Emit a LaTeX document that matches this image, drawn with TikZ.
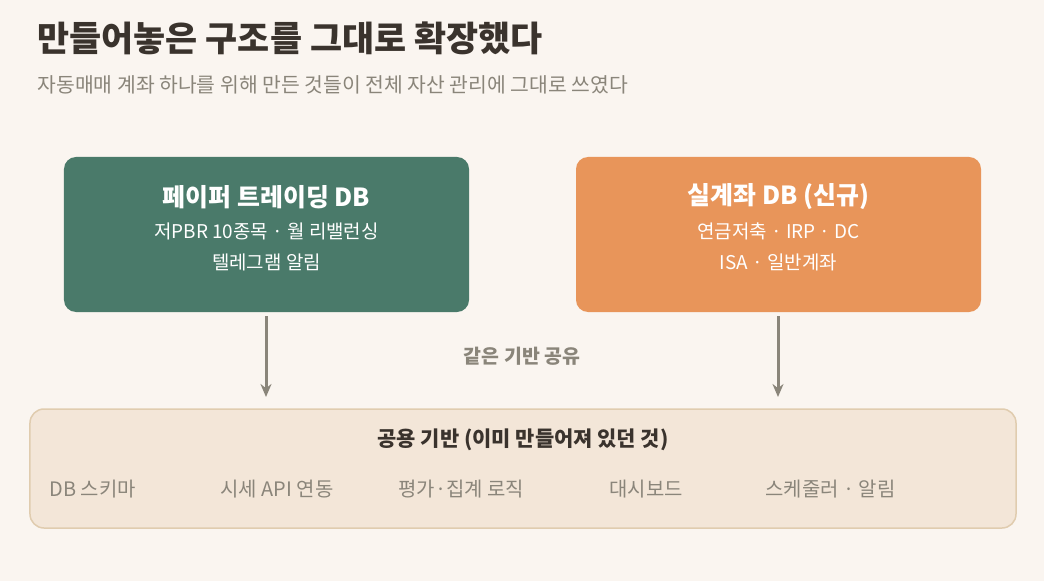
\documentclass[tikz,border=0pt]{standalone}
\usepackage{fontspec}
\setmainfont{Noto Sans CJK KR}
\usetikzlibrary{positioning,arrows.meta}
\definecolor{bg}{HTML}{FAF5F0}
\definecolor{paper}{HTML}{4A7A6A}
\definecolor{real}{HTML}{E8955A}
\definecolor{base}{HTML}{F3E6D8}
\definecolor{baseline}{HTML}{E0CCAF}
\definecolor{ink}{HTML}{3A332D}
\definecolor{muted}{HTML}{8A857A}
\newcommand{\fs}[1]{\fontsize{#1}{#1}\selectfont}
\begin{document}
\begin{tikzpicture}[x=1bp,y=-1bp,
   box/.style={rounded corners=12bp, minimum width=405bp, minimum height=155bp},
   hd/.style={font=\fs{25}\bfseries, text=white},
   ln/.style={font=\fs{19}, text=white},
   item/.style={font=\fs{20}, text=muted, anchor=west},
   flow/.style={-{Stealth[length=13bp,width=11bp]}, line width=3bp, draw=muted}]
   \fill[bg] (0,0) rectangle (1044,581);
   \useasboundingbox (0,0) rectangle (1044,581);
   \node[anchor=west, font=\fs{35}\bfseries, text=ink] (title) at (34,38) {만들어놓은 구조를 그대로 확장했다};
   \node[anchor=west, font=\fs{20.5}, text=muted] (sub) at (34,85) {자동매매 계좌 하나를 위해 만든 것들이 전체 자산 관리에 그대로 쓰였다};
   % two sources
   \node[box, fill=paper] (pt) at (266.5,234.5) {};
   \node[hd] at (266.5,197) {페이퍼 트레이딩 DB};
   \node[ln] at (266.5,231) {저PBR 10종목 · 월 리밸런싱};
   \node[ln] at (266.5,262) {텔레그램 알림};
   \node[box, fill=real] (ra) at (778.5,234.5) {};
   \node[hd] at (778.5,197) {실계좌 DB (신규)};
   \node[ln] at (778.5,231) {연금저축 · IRP · DC};
   \node[ln] at (778.5,262) {ISA · 일반계좌};
   % shared base
   \node[box, fill=base, draw=baseline, line width=1.5bp, minimum width=986bp, minimum height=119bp, rounded corners=14bp] (sh) at (523,468.5) {};
   \node[font=\fs{21}\bfseries, text=ink] at (523,440) {공용 기반 (이미 만들어져 있던 것)};
   \node[item] at (46,489) {DB 스키마};
   \node[item] at (217,489) {시세 API 연동};
   \node[item] at (395,489) {평가·집계 로직};
   \node[item] at (606,489) {대시보드};
   \node[item] at (762,489) {스케줄러 · 알림};
   \coordinate (a1) at (266,316);
   \coordinate (a2) at (778,316);
   \draw[flow] (a1) -- (266,397);
   \draw[flow] (a2) -- (778,397);
   \node[font=\fs{19.5}\bfseries, text=muted] (lbl) at (522,356) {같은 기반 공유};
\end{tikzpicture}
\end{document}
